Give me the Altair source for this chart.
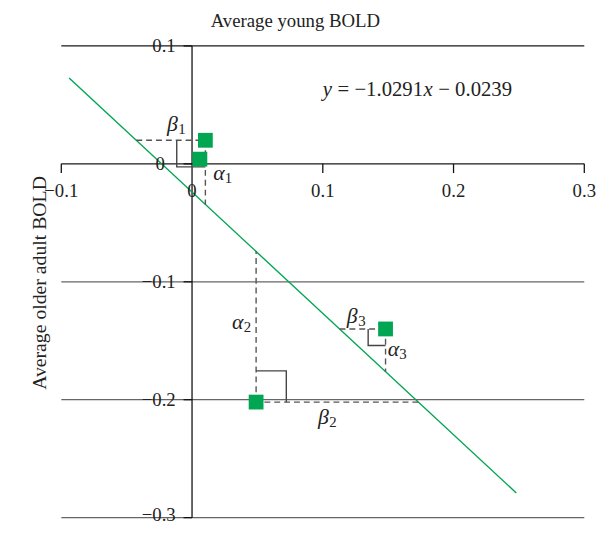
import altair as alt
import pandas as pd

# ---------------- data ----------------
pts_x = [0.0102, 0.006, 0.049, 0.148]
pts_y = [0.020, 0.004, -0.202, -0.140]

slope = -1.0291
intercept = -0.0239
line_x = [-0.094, 0.248]

x_ticks = [-0.1, 0.0, 0.1, 0.2, 0.3]
x_tick_labels = ["−0.1", "0", "0.1", "0.2", "0.3"]
y_ticks = [0.1, 0.0, -0.1, -0.2, -0.3]
y_tick_labels = ["0.1", "0", "−0.1", "−0.2", "−0.3"]
y_label_x = [-0.0125, -0.0208, -0.0125, -0.0125, -0.0125]
y_label_y = [0.1, 0.0, -0.1, -0.2, -0.2975]

# which points get residual construction (point index)
resid_idx = [0, 2, 3]

# right-angle markers: polylines
marker_id = [1, 1, 1, 2, 2, 2, 3, 3, 3]
marker_ord = [0, 1, 2, 0, 1, 2, 0, 1, 2]
marker_x = [-0.0117, -0.0117, 0.0102, 0.049, 0.0721, 0.0721, 0.1347, 0.1347, 0.148]
marker_y = [0.020, -0.0025, -0.0025, -0.1755, -0.1755, -0.202, -0.140, -0.154, -0.154]

greek = ["β", "α", "α", "β", "β", "α"]
greek_sub = ["1", "1", "2", "2", "3", "3"]
greek_x = [-0.0150, 0.0205, 0.0350, 0.1005, 0.1225, 0.1540]
greek_y = [0.034, -0.008, -0.134, -0.215, -0.129, -0.157]

eq_parts = ["y", "= −1.0291", "x", "− 0.0239"]
eq_italic = [True, False, True, False]
eq_x = [0.1000, 0.1113, 0.1770, 0.1883]
eq_y = 0.0623

title_text = "Average young BOLD"
ytitle_text = "Average older adult BOLD"

FONT = "Liberation Serif"
GREEN = "#00a651"
GRID = "#666666"
DASH = "#555555"
TXT = "#222222"

# ---------------- layers ----------------
xs = alt.Scale(domain=[-0.1, 0.3], nice=False, zero=False)
ys = alt.Scale(domain=[-0.3, 0.1], nice=False, zero=False)
X = lambda f="x": alt.X(f"{f}:Q", scale=xs, axis=None)
Y = lambda f="y": alt.Y(f"{f}:Q", scale=ys, axis=None)

grid_df = pd.DataFrame({"y": y_ticks, "x": -0.1, "x2": 0.3,
                        "c": ["#1a1a1a" if v in (0.1, 0.0) else GRID for v in y_ticks]})
grid = alt.Chart(grid_df).mark_rule(strokeWidth=1.3).encode(
    x=X(), x2="x2:Q", y=Y(), color=alt.Color("c:N", scale=None))

vaxis = alt.Chart(pd.DataFrame({"x": [0.0], "y": [-0.3], "y2": [0.1]})).mark_rule(
    color="#111111", strokeWidth=1.3).encode(x=X(), y=Y(), y2="y2:Q")

xt_df = pd.DataFrame({"x": [v for v in x_ticks if v != 0], "y": 0.0, "y2": -0.0078})
xticks = alt.Chart(xt_df).mark_rule(color="#111111", strokeWidth=1.3).encode(
    x=X(), y=Y(), y2="y2:Q")
yt_df = pd.DataFrame({"y": y_ticks, "x": -0.0065, "x2": 0.0})
yticks = alt.Chart(yt_df).mark_rule(color="#111111", strokeWidth=1.3).encode(
    x=X(), x2="x2:Q", y=Y())

xl_df = pd.DataFrame({"x": x_ticks, "t": x_tick_labels, "y": -0.023})
xlabels = alt.Chart(xl_df).mark_text(font=FONT, fontSize=19, color=TXT,
                                     baseline="middle", align="center").encode(
    x=X(), y=Y(), text="t:N")
yl_df = pd.DataFrame({"y": y_label_y, "t": y_tick_labels, "x": y_label_x})
ylabels = alt.Chart(yl_df).mark_text(font=FONT, fontSize=19, color=TXT,
                                     baseline="middle", align="right").encode(
    x=X(), y=Y(), text="t:N")

fit_df = pd.DataFrame({"x": line_x, "y": [slope * v + intercept for v in line_x]})
fit = alt.Chart(fit_df).mark_line(color=GREEN, strokeWidth=1.4).encode(x=X(), y=Y())

dash_rows = []
for i in resid_idx:
    px, py = pts_x[i], pts_y[i]
    xl = (py - intercept) / slope
    dash_rows.append({"x": xl, "x2": px, "y": py, "y2": py})
    yl = slope * px + intercept
    dash_rows.append({"x": px, "x2": px, "y": py, "y2": yl})
dashes = alt.Chart(pd.DataFrame(dash_rows)).mark_rule(
    color=DASH, strokeWidth=1.4, strokeDash=[6, 4]).encode(
    x=X(), x2="x2:Q", y=Y(), y2="y2:Q")

mk_df = pd.DataFrame({"id": marker_id, "o": marker_ord, "x": marker_x, "y": marker_y})
markers = alt.Chart(mk_df).mark_line(color="#444444", strokeWidth=1.4).encode(
    x=X(), y=Y(), detail="id:N", order="o:Q")

pts_df = pd.DataFrame({"x": pts_x, "y": pts_y})
points = alt.Chart(pts_df).mark_square(size=225, color=GREEN, opacity=1).encode(
    x=X(), y=Y())

g_df = pd.DataFrame({"g": greek, "s": greek_sub, "x": greek_x, "y": greek_y})
gl = alt.Chart(g_df).mark_text(font=FONT, fontSize=22, fontStyle="italic",
                               color=TXT, align="center", baseline="middle").encode(
    x=X(), y=Y(), text="g:N")
gs = alt.Chart(g_df).mark_text(font=FONT, fontSize=15, color=TXT,
                               align="left", baseline="middle", dx=6, dy=5).encode(
    x=X(), y=Y(), text="s:N")

eq_df = pd.DataFrame({"t": eq_parts, "x": eq_x, "y": eq_y,
                      "st": ["italic" if v else "normal" for v in eq_italic]})
eq_it = alt.Chart(eq_df[eq_df.st == "italic"]).mark_text(
    font=FONT, fontSize=21, fontStyle="italic", color=TXT,
    align="left", baseline="middle").encode(x=X(), y=Y(), text="t:N")
eq_rm = alt.Chart(eq_df[eq_df.st == "normal"]).mark_text(
    font=FONT, fontSize=21, color=TXT,
    align="left", baseline="middle").encode(x=X(), y=Y(), text="t:N")

title = alt.Chart(pd.DataFrame({"t": [title_text], "x": [0.079], "y": [0.1215]})).mark_text(
    font=FONT, fontSize=19, color=TXT, align="center", baseline="middle").encode(
    x=X(), y=Y(), text="t:N")
ytitle = alt.Chart(pd.DataFrame({"t": [ytitle_text], "x": [-0.1165], "y": [-0.101]})).mark_text(
    font=FONT, fontSize=20, color=TXT, align="center", baseline="middle",
    angle=270).encode(x=X(), y=Y(), text="t:N")

chart = alt.layer(
    grid, vaxis, xticks, yticks, fit, dashes, markers, points,
    xlabels, ylabels, gl, gs, eq_it, eq_rm, title, ytitle
).properties(
    width=530, height=478,
    autosize=alt.AutoSizeParams(type="none"),
    padding={"left": 54, "top": 35, "right": 22, "bottom": 4},
    background="white",
).configure_view(stroke=None)

chart.save("out.html", embed_options={"renderer": "svg", "actions": False})
